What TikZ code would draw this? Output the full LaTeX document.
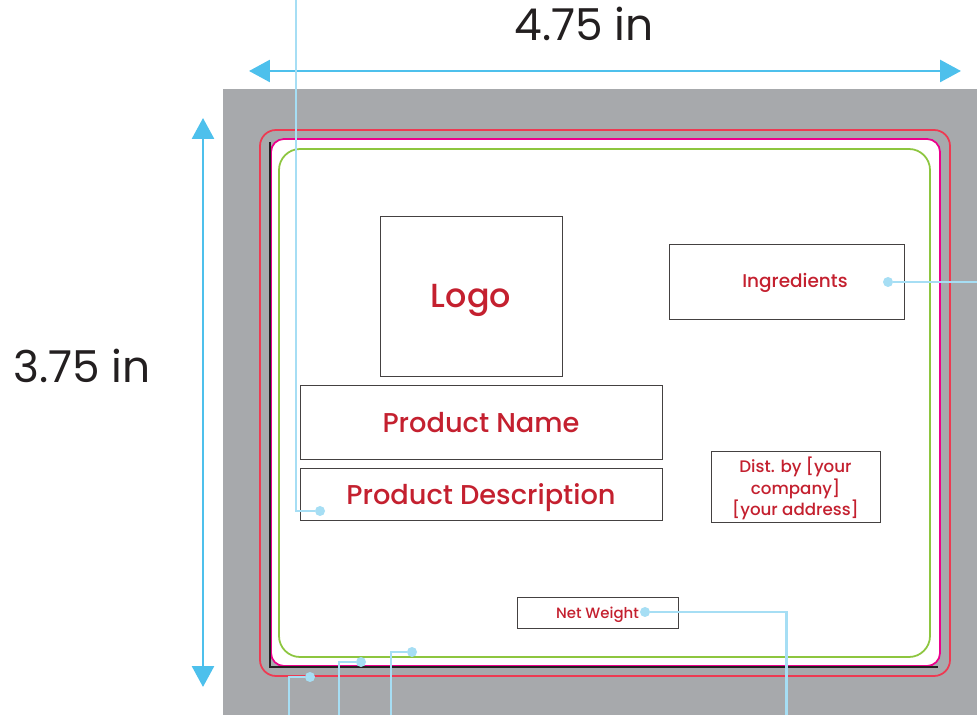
\documentclass[tikz,border=0pt]{standalone}
\usepackage{fontspec}
\setmainfont{Poppins}
\newfontfamily\moyen{Poppins Medium}
\usetikzlibrary{arrows.meta}
\definecolor{fond}{HTML}{A7A9AC}
\definecolor{coupe}{HTML}{EE3A52}
\definecolor{fondperdu}{HTML}{EC008C}
\definecolor{marge}{HTML}{8DC63F}
\definecolor{rouge}{HTML}{C4202F}
\definecolor{cote}{HTML}{4DC0EC}
\definecolor{guide}{HTML}{A6DEF4}
\definecolor{encre}{HTML}{231F20}
\tikzset{
	zone/.style={draw=encre!85, line width=0.5pt, inner sep=0pt, text=rouge, align=center, text depth=0pt},
	fleche/.style={draw=cote, line width=1.6pt, {Triangle[length=0.42cm, width=0.44cm]}-{Triangle[length=0.42cm, width=0.44cm]}},
	ligneguide/.style={draw=guide, line width=1.7pt},
	point/.style={circle, fill=guide, inner sep=0pt, minimum size=0.2cm},
	titre/.style={text=encre, font=\fontsize{25}{30}\selectfont}
}
\begin{document}
\begin{tikzpicture}[x=0.02cm, y=-0.02cm]
	\useasboundingbox (0,0) rectangle (977,715);
	% fond gris
	\fill[fond] (223,89) rectangle (977,715);
	% traits de coupe, fond perdu, marge
	\draw[coupe, line width=1pt, rounded corners=0.32cm] (260,130) rectangle (950,676);
	\filldraw[fill=white, draw=fondperdu, line width=1pt, rounded corners=0.26cm] (271,139) rectangle (940,666);
	\draw[encre, line width=1.2pt] (270,142) -- (270,667) -- (938,667);
	\draw[marge, line width=1pt, rounded corners=0.42cm] (279,149) rectangle (930,657);
	% cotes
	\coordinate (cg) at (249,71);
	\coordinate (cd) at (961,71);
	\coordinate (ch) at (203,118);
	\coordinate (cb) at (203,687);
	\draw[fleche] (cg) -- (cd);
	\draw[fleche] (ch) -- (cb);
	\node[titre] (largeur) at (584,24) {4.75 in};
	\node[titre] (hauteur) at (82,366) {3.75 in};
	% zones de texte
	\node[zone, minimum width=3.64cm, minimum height=3.2cm, font=\moyen\fontsize{19}{24}\selectfont] (logo) at (471,296) {Logo};
	\node[zone, minimum width=4.7cm, minimum height=1.5cm] (ingr) at (786.5,281.5) {};
	\node[text=rouge, font=\moyen\fontsize{10.5}{13}\selectfont] (ingrtxt) at (795,283) {Ingredients};
	\node[zone, minimum width=7.24cm, minimum height=1.48cm, font=\moyen\fontsize{15.5}{20}\selectfont] (nom) at (481,422) {Product Name};
	\node[zone, minimum width=7.24cm, minimum height=1.04cm, font=\moyen\fontsize{15.5}{20}\selectfont] (desc) at (481,494) {Product Description};
	\node[zone, minimum width=3.38cm, minimum height=1.42cm, font=\moyen\fontsize{9.5}{11}\selectfont] (dist) at (795.5,486.5) {Dist. by [your\\company]\\{}[your address]};
	\node[zone, minimum width=3.22cm, minimum height=0.62cm, font=\moyen\fontsize{8.5}{11}\selectfont] (poids) at (597.5,612.5) {Net Weight};
	% lignes guides
	\node[point] (pdesc) at (320,511) {};
	\node[point] (pingr) at (888,282) {};
	\node[point] (ppoids) at (645,612) {};
	\node[point] (pcoupe) at (310,677) {};
	\node[point] (pperdu) at (361,662) {};
	\node[point] (pmarge) at (412,652) {};
	\coordinate (gdesc) at (296,0);
	\coordinate (gingr) at (977,282);
	\coordinate (gpoids) at (786,715);
	\coordinate (gcoupe) at (289,715);
	\coordinate (gperdu) at (339,715);
	\coordinate (gmarge) at (391,715);
	\draw[ligneguide] (gdesc) |- (pdesc);
	\draw[ligneguide] (pingr) -- (gingr);
	\draw[ligneguide] (ppoids) -| (gpoids);
	\draw[ligneguide] (gcoupe) |- (pcoupe);
	\draw[ligneguide] (gperdu) |- (pperdu);
	\draw[ligneguide] (gmarge) |- (pmarge);
\end{tikzpicture}
\end{document}
